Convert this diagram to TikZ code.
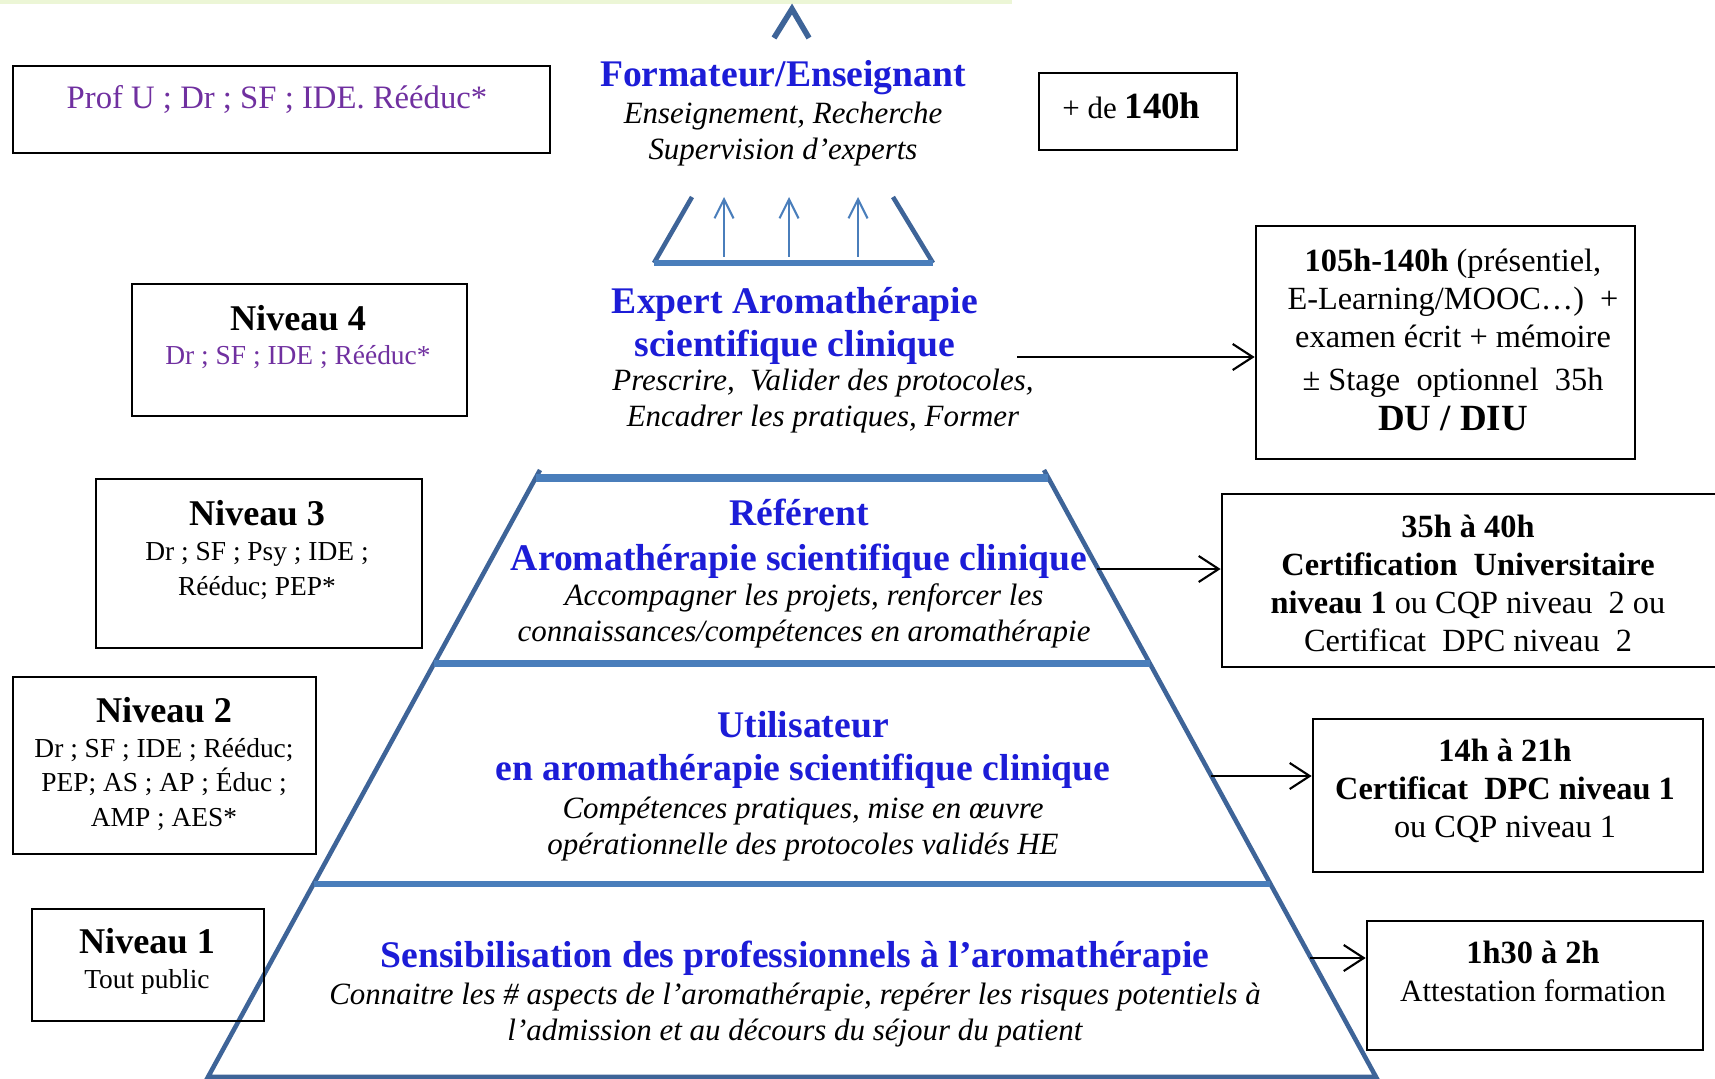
\documentclass[tikz,border=0pt]{standalone}
\usepackage{fontspec}
\setmainfont{Liberation Serif}
\usetikzlibrary{arrows.meta,calc}
\definecolor{pyrblue}{RGB}{74,126,187}
\definecolor{sideblue}{RGB}{62,100,152}
\definecolor{headblue}{RGB}{28,28,215}
\definecolor{rolepurple}{RGB}{112,48,160}
\definecolor{topgreen}{RGB}{236,246,214}
\newcommand{\fsz}[2]{\fontsize{#1}{#2}\selectfont}

\begin{document}
\begin{tikzpicture}[x=0.01cm,y=-0.01cm,
    box/.style={draw, line width=0.7pt, inner sep=0pt},
    head/.style={text=headblue, font=\fsz{10.7}{12.2}\bfseries, align=center},
    desc/.style={font=\fsz{8.8}{10.4}\itshape, align=center},
    lvl/.style={font=\fsz{7.8}{9.9}, align=center},
    hrs/.style={font=\fsz{9.2}{10.8}, align=center},
    side/.style={draw=sideblue, line width=1.3pt},
    sep/.style={draw=pyrblue, line width=1.8pt},
    link/.style={-{Straight Barb[length=2mm,width=2.6mm]}, line width=0.6pt}]
\useasboundingbox (0,0) rectangle (1715,1079);
\clip (0,0) rectangle (1715,1079);
\fill[topgreen] (0,0) rectangle (1012,4);
%draw top of the pyramid
    \draw[side, line width=1.6pt] (774,38) -- (792,9) -- (809,38);
    \draw[side] (692,197) -- (654,263);
    \draw[side] (893,197) -- (933,263);
    \draw[sep] (654,263) -- (933,263);
    \foreach \x [count=\i] in {724,789,858} {
       \coordinate (up\i a) at (\x,257);
       \coordinate (up\i b) at (\x,197);
       \draw[pyrblue, line width=0.6pt, -{Straight Barb[length=1.9mm,width=1.9mm]}] (up\i a) -- (up\i b);
    }
%draw pyramid
    \coordinate (pl) at (540,470);
    \coordinate (pr) at (1044,470);
    \coordinate (bl) at (208,1077);
    \coordinate (br) at (1376,1077);
    \draw[side] (pl) -- (bl) -- (br) -- (pr);
    \draw[sep, line width=2.2pt] ($(pl)!0.013!(bl)$) -- ($(pr)!0.013!(br)$);
    \draw[sep] ($(pl)!0.319!(bl)$) -- ($(pr)!0.319!(br)$);
    \draw[sep] ($(pl)!0.682!(bl)$) -- ($(pr)!0.682!(br)$);
%insert level titles
    \node[head] (formateur) at (783,78) {Formateur/Enseignant};
    \node[desc] (formateurdesc) at (783,134) {Enseignement, Recherche\\Supervision d’experts};
    \node[head] (expert) at (795,326) {Expert Aromathérapie\\scientifique clinique};
    \node[desc] (expertdesc) at (823,401) {Prescrire,\ \ Valider des protocoles,\\Encadrer les pratiques, Former};
    \node[head] (referent) at (799,539) {Référent\\[0.6pt]Aromathérapie scientifique clinique};
    \node[desc] (referentdesc) at (804,616) {Accompagner les projets, renforcer les\\connaissances/compétences en aromathérapie};
    \node[head] (utilisateur) at (803,750) {Utilisateur\\en aromathérapie scientifique clinique};
    \node[desc] (utilisateurdesc) at (803,829) {Compétences pratiques, mise en œuvre\\opérationnelle des protocoles validés HE};
    \node[head] (sensib) at (795,958) {Sensibilisation des professionnels à l’aromathérapie};
    \node[desc] (sensibdesc) at (795,1015) {Connaitre les \# aspects de l’aromathérapie, repérer les risques potentiels à\\l’admission et au décours du séjour du patient};
%insert level boxes
    \node[box, minimum width=5.37cm, minimum height=0.87cm] (profu) at (281.5,109.5) {};
    \node[text=rolepurple, font=\fsz{9.3}{11}] (profutext) at (277,100) {Prof U ; Dr ; SF ; IDE. Rééduc*};
    \node[box, minimum width=3.35cm, minimum height=1.32cm] (niv4) at (299.5,350) {};
    \node[lvl] (niv4text) at (298,337) {{\fsz{10.3}{12}\bfseries Niveau 4}\\{\color{rolepurple}Dr ; SF ; IDE ; Rééduc*}};
    \node[box, minimum width=3.26cm, minimum height=1.69cm] (niv3) at (259,563.5) {};
    \node[lvl] (niv3text) at (257,550) {{\fsz{10.3}{12}\bfseries Niveau 3}\\Dr ; SF ; Psy ; IDE ;\\Rééduc; PEP*};
    \node[box, minimum width=3.03cm, minimum height=1.77cm] (niv2) at (164.5,765.5) {};
    \node[lvl] (niv2text) at (164,764) {{\fsz{10.3}{12}\bfseries Niveau 2}\\Dr ; SF ; IDE ; Rééduc;\\PEP; AS ; AP ; Éduc ;\\AMP ; AES*};
    \node[box, minimum width=2.32cm, minimum height=1.12cm] (niv1) at (148,965) {};
    \node[lvl] (niv1text) at (147,961) {{\fsz{10.3}{12}\bfseries Niveau 1}\\Tout public};
%insert hour boxes
    \node[box, minimum width=1.98cm, minimum height=0.77cm] (plus) at (1138,111.5) {};
    \node[anchor=west, font=\fsz{8.8}{10}] (plustext) at (1050,106) {+ de {\fsz{10.5}{12}\bfseries 140h}};
    \node[box, minimum width=3.79cm, minimum height=2.33cm] (du) at (1445.5,342.5) {};
    \node[hrs] (dutext) at (1453,340) {{\bfseries 105h-140h} (présentiel,\\E-Learning/MOOC…)\ \ +\\examen écrit + mémoire\\[1.2pt]± Stage\ \ optionnel\ \ 35h\\[0.6pt]{\fsz{10.5}{12}\bfseries DU / DIU}};
    \node[box, minimum width=5.03cm, minimum height=1.73cm] (certu) at (1473.5,580.5) {};
    \node[hrs] (certutext) at (1468,583) {{\bfseries 35h à 40h}\\{\bfseries Certification\ \ Universitaire}\\{\bfseries niveau 1} ou CQP niveau\ \ 2 ou\\Certificat\ \ DPC niveau\ \ 2};
    \node[box, minimum width=3.90cm, minimum height=1.53cm] (dpc) at (1508,795.5) {};
    \node[hrs] (dpctext) at (1505,791) {{\bfseries 14h à 21h}\\{\bfseries Certificat\ \ DPC niveau 1}\\ou CQP niveau 1};
    \node[box, minimum width=3.36cm, minimum height=1.29cm] (attest) at (1535,985.5) {};
    \node[hrs] (attesttext) at (1533,971) {{\bfseries 1h30 à 2h}\\{\fsz{8.8}{10}Attestation formation}};
%draw links to hour boxes
    \coordinate (e4) at (1017,357);
    \coordinate (e3) at (1097,569);
    \coordinate (e2) at (1211,776);
    \coordinate (e1) at (1310,958);
    \draw[link] (e4) -- (e4 -| du.west);
    \draw[link] (e3) -- (e3 -| certu.west);
    \draw[link] (e2) -- (e2 -| dpc.west);
    \draw[link] (e1) -- (e1 -| attest.west);
\end{tikzpicture}
\end{document}
